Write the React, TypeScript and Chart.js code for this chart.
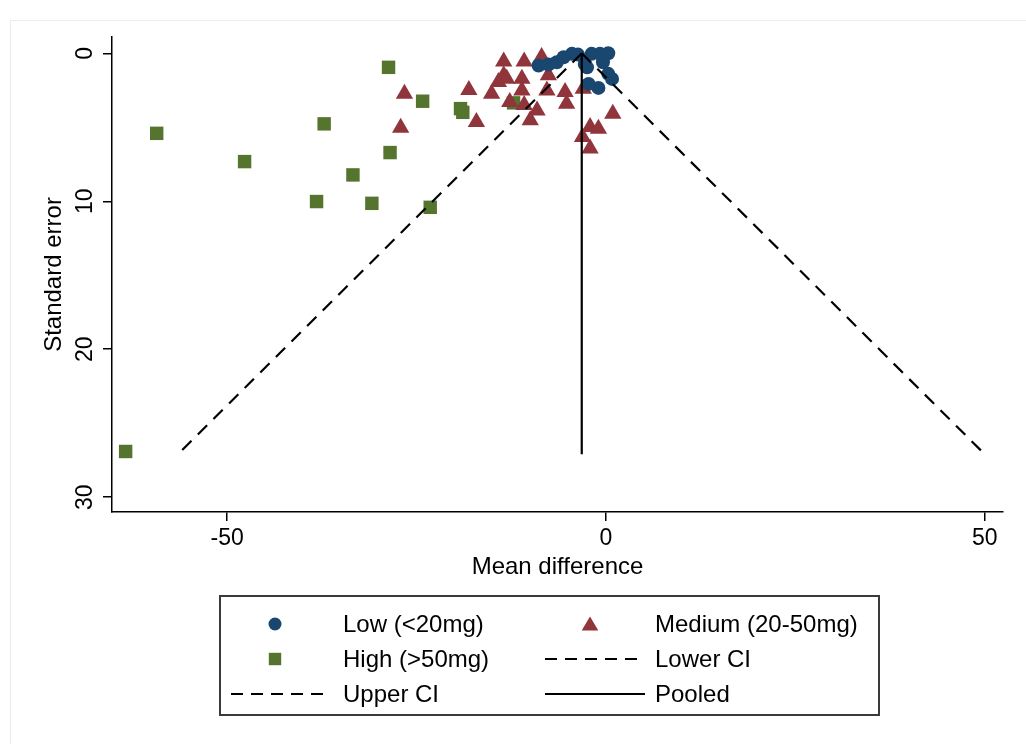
import React, { useEffect, useRef } from "react";
import { Chart, registerables } from "chart.js";
Chart.register(...registerables);

// ---- data ----
const xTicks = [-50, 0, 50];
const yTicks = [0, 10, 20, 30];

const lowX = [-8.9, -7.6, -6.5, -5.6, -4.5, -3.7, -2.8, -2.5, -1.9, -0.8, 0.3, -0.4, 0.3, 0.8, -1.0, -2.3];
const lowY = [0.83, 0.76, 0.61, 0.27, 0.04, 0.09, 0.72, 0.95, 0.04, 0.04, 0.0, 0.61, 1.39, 1.73, 2.34, 2.07];

const medX = [-13.5, -10.8, -8.5, -26.6, -27.1, -18.1, -15.1, -13.5, -14.2, -13.1, -11.1, -7.6, -11.1, -7.8, -5.4, -5.2, -3.0, -12.7, -9.1, -10.0, -17.1, 0.9, -2.1, -1.0, -3.1, -2.1, -10.8];
const medY = [0.55, 0.55, 0.26, 2.74, 5.03, 2.49, 2.74, 1.49, 1.94, 1.72, 1.72, 1.49, 2.51, 2.51, 2.62, 3.41, 2.40, 3.30, 3.86, 4.53, 4.65, 4.09, 4.99, 5.10, 5.66, 6.44, 3.50];

const highX = [-28.7, -24.2, -37.2, -59.3, -28.5, -47.7, -33.4, -38.2, -30.9, -23.2, -63.4, -19.2, -18.9, -12.2];
const highY = [0.95, 3.24, 4.77, 5.41, 6.71, 7.32, 8.22, 10.02, 10.14, 10.41, 26.91, 3.74, 3.99, 3.35];

const lineSE = [0, 27.1];
const pooledX = [-3.2, -3.2];
const lowerCIX = [-3.2, -56.5];
const upperCIX = [-3.2, 50.0];

const legendLabels = ["Low (<20mg)", "Medium (20-50mg)", "High (>50mg)", "Lower CI", "Upper CI", "Pooled"];

const NAVY = "#1a476f";
const MAROON = "#90353b";
const GREEN = "#55752f";
const FONT = '"Liberation Sans", Arial, Helvetica, sans-serif';

const pts = (xs: number[], ys: number[]) => xs.map((x, i) => ({ x, y: ys[i] }));

const yTickLabelPlugin = {
  id: "yTickLabels",
  afterDraw(chart: any) {
    const ctx = chart.ctx;
    const ys = chart.scales.y;
    const left = chart.chartArea.left;
    ctx.save();
    ctx.fillStyle = "#000";
    ctx.font = `23px ${FONT}`;
    ctx.textAlign = "center";
    ctx.textBaseline = "middle";
    for (const v of yTicks) {
      const py = ys.getPixelForValue(v);
      ctx.save();
      ctx.translate(left - 26, py);
      ctx.rotate(-Math.PI / 2);
      ctx.fillText(String(v), 0, 0);
      ctx.restore();
    }
    ctx.restore();
  },
};

function LegendMarker({ kind }: { kind: string }) {
  if (kind === "circle")
    return (
      <svg width="20" height="20" style={{ display: "block" }}>
        <circle cx="10" cy="10" r="6.5" fill={NAVY} />
      </svg>
    );
  if (kind === "triangle")
    return (
      <svg width="20" height="20" style={{ display: "block" }}>
        <polygon points="10,2.5 18.3,16.5 1.7,16.5" fill={MAROON} />
      </svg>
    );
  if (kind === "square")
    return (
      <svg width="20" height="20" style={{ display: "block" }}>
        <rect x="3.8" y="3.8" width="12.4" height="12.4" fill={GREEN} />
      </svg>
    );
  const dashed = kind === "dash";
  return (
    <svg width="100" height="6" style={{ display: "block" }}>
      <line x1="0" y1="3" x2="100" y2="3" stroke="#000" strokeWidth="2" strokeDasharray={dashed ? "12 8" : undefined} />
    </svg>
  );
}

export default function App() {
  const ref = useRef<HTMLCanvasElement | null>(null);

  useEffect(() => {
    if (!ref.current) return;
    const lineDs = (label: string, xs: number[], dash: number[]) => ({
      type: "scatter" as const,
      label,
      data: pts(xs, lineSE),
      showLine: true,
      borderColor: "#000",
      borderWidth: 2.2,
      borderDash: dash,
      pointRadius: 0,
      order: 0,
    });
    const chart = new Chart(ref.current, {
      type: "scatter",
      data: {
        datasets: [
          lineDs(legendLabels[3], lowerCIX, [13, 9]),
          lineDs(legendLabels[4], upperCIX, [13, 9]),
          lineDs(legendLabels[5], pooledX, []),
          {
            label: legendLabels[0],
            data: pts(lowX, lowY),
            pointStyle: "circle",
            pointRadius: 7,
            backgroundColor: NAVY,
            borderColor: NAVY,
            borderWidth: 0,
            order: 1,
          },
          {
            label: legendLabels[1],
            data: pts(medX, medY),
            pointStyle: "triangle",
            pointRadius: 10,
            backgroundColor: MAROON,
            borderColor: MAROON,
            borderWidth: 0,
            order: 2,
          },
          {
            label: legendLabels[2],
            data: pts(highX, highY),
            pointStyle: "rect",
            pointRadius: 9.5,
            backgroundColor: GREEN,
            borderColor: GREEN,
            borderWidth: 0,
            order: 3,
          },
        ],
      },
      options: {
        responsive: false,
        animation: false,
        devicePixelRatio: 1,
        layout: { padding: { top: 37, left: 0, right: 23, bottom: 152 } },
        plugins: { legend: { display: false }, tooltip: { enabled: false } },
        scales: {
          x: {
            type: "linear",
            position: "bottom",
            min: -65.2,
            max: 52.4,
            afterBuildTicks: (s: any) => {
              s.ticks = xTicks.map((v) => ({ value: v }));
            },
            afterFit: (s: any) => {
              s.height = 80;
            },
            grid: { display: true, drawOnChartArea: false, drawTicks: true, tickLength: 9, color: "#000", lineWidth: 1.5 },
            border: { display: true, color: "#000", width: 1.5 },
            ticks: {
              color: "#000",
              font: { family: FONT, size: 23 },
              padding: 4,
              maxRotation: 0,
              autoSkip: false,
              callback: (v: any) => String(v),
            },
            title: {
              display: true,
              text: "Mean difference",
              color: "#000",
              font: { family: FONT, size: 24 },
              padding: { top: 0, bottom: 10 },
            },
          },
          y: {
            type: "linear",
            reverse: true,
            min: -1.1,
            max: 31.0,
            afterBuildTicks: (s: any) => {
              s.ticks = yTicks.map((v) => ({ value: v }));
            },
            afterFit: (s: any) => {
              s.width = 112;
            },
            grid: { display: true, drawOnChartArea: false, drawTicks: true, tickLength: 9, color: "#000", lineWidth: 1.5 },
            border: { display: true, color: "#000", width: 1.5 },
            ticks: { autoSkip: false, callback: () => "" },
            title: {
              display: true,
              text: "Standard error",
              color: "#000",
              font: { family: FONT, size: 24 },
              padding: { top: 40, bottom: 0 },
            },
          },
        },
      },
      plugins: [yTickLabelPlugin],
    } as any);
    return () => chart.destroy();
  }, []);

  const textStyle: React.CSSProperties = {
    position: "absolute",
    fontFamily: FONT,
    fontSize: 24,
    color: "#000",
    lineHeight: "28px",
    whiteSpace: "nowrap",
    transform: "translateY(-50%)",
  };
  const rows = [27, 62, 97];

  return (
    <div style={{ position: "fixed", left: 0, top: 0, width: 1026, height: 744, background: "#fff", overflow: "hidden" }}>
      <div style={{ position: "absolute", left: 10, top: 20, right: -5, bottom: -5, borderLeft: "1px solid #ececec", borderTop: "1px solid #ececec" }} />
      <canvas ref={ref} width={1026} height={744} style={{ position: "absolute", left: 0, top: 0, width: 1026, height: 744 }} />
      <div
        style={{
          position: "absolute",
          left: 219,
          top: 595,
          width: 661,
          height: 121,
          boxSizing: "border-box",
          border: "2px solid #3a3a3a",
        }}
      >
        <div style={{ position: "absolute", left: 44, top: rows[0] - 10 }}>
          <LegendMarker kind="circle" />
        </div>
        <div style={{ ...textStyle, left: 122, top: rows[0] }}>{legendLabels[0]}</div>
        <div style={{ position: "absolute", left: 359, top: rows[0] - 10 }}>
          <LegendMarker kind="triangle" />
        </div>
        <div style={{ ...textStyle, left: 434, top: rows[0] }}>{legendLabels[1]}</div>

        <div style={{ position: "absolute", left: 44, top: rows[1] - 10 }}>
          <LegendMarker kind="square" />
        </div>
        <div style={{ ...textStyle, left: 122, top: rows[1] }}>{legendLabels[2]}</div>
        <div style={{ position: "absolute", left: 324, top: rows[1] - 3 }}>
          <LegendMarker kind="dash" />
        </div>
        <div style={{ ...textStyle, left: 434, top: rows[1] }}>{legendLabels[3]}</div>

        <div style={{ position: "absolute", left: 10, top: rows[2] - 3 }}>
          <LegendMarker kind="dash" />
        </div>
        <div style={{ ...textStyle, left: 122, top: rows[2] }}>{legendLabels[4]}</div>
        <div style={{ position: "absolute", left: 324, top: rows[2] - 3 }}>
          <LegendMarker kind="solid" />
        </div>
        <div style={{ ...textStyle, left: 434, top: rows[2] }}>{legendLabels[5]}</div>
      </div>
    </div>
  );
}
